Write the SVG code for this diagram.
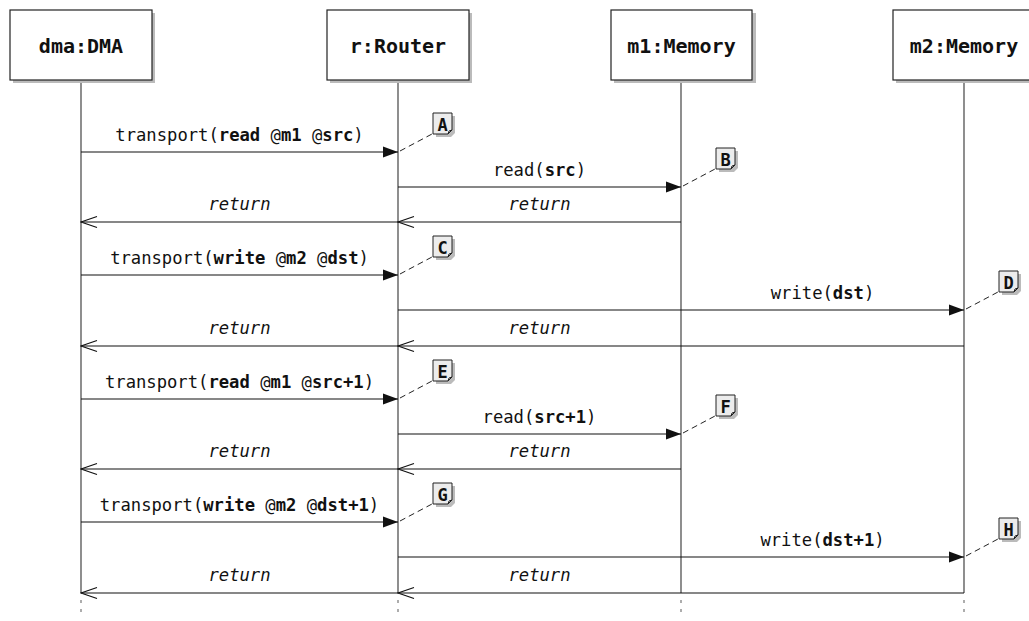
<svg xmlns="http://www.w3.org/2000/svg" width="1029" height="621" viewBox="0 0 1029 621">
<defs>
<style>
.box{fill:#fff;stroke:#222;stroke-width:1.2}
.shadow{fill:#bbb}
.nlabel{font-family:"DejaVu Sans Mono",monospace;font-weight:bold;font-size:20px;text-anchor:middle;fill:#111}
.life{stroke:#444;stroke-width:1.2}
.lifeend{stroke:#777;stroke-width:1.2;stroke-dasharray:3 6}
.msg{stroke:#111;stroke-width:1.2;fill:none}
.ret{stroke:#111;stroke-width:1.2;fill:none}
.mlabel{font-family:"DejaVu Sans Mono",monospace;font-size:17.2px;text-anchor:middle;fill:#111}
.rlabel{font-family:"DejaVu Sans Mono",monospace;font-style:italic;font-size:17.2px;text-anchor:middle;fill:#111}
.b{font-weight:bold}
.note{fill:#ececec;stroke:#222;stroke-width:1}
.nshadow{fill:#bbb}
.ntext{font-family:"DejaVu Sans Mono",monospace;font-weight:bold;font-size:17px;text-anchor:middle;fill:#111}
.link{stroke:#222;stroke-width:1;stroke-dasharray:6 4;fill:none}
</style>
<marker id="filled" markerWidth="16" markerHeight="12" refX="15" refY="6" orient="auto" markerUnits="userSpaceOnUse">
<path d="M0,0.5 L15,6 L0,11.5 z" fill="#111"/>
</marker>
<marker id="open" markerWidth="18" markerHeight="14" refX="1" refY="7" orient="auto" markerUnits="userSpaceOnUse">
<path d="M17,1.5 L1,7 L17,12.5" fill="none" stroke="#111" stroke-width="1.2"/>
</marker>
<g id="notetpl">
<path class="nshadow" d="M3,3 h19 v17 l-4,4 h-15 z"/>
<path class="note" d="M0,0 h19 v17 l-4,4 h-15 z"/>
<path d="M15,21 l1,-3 l3,-1" fill="none" stroke="#222" stroke-width="1"/>
</g>
</defs>
<rect width="1029" height="621" fill="#fff"/>

<g id="lifelines">
<line class="life" x1="81" y1="80" x2="81" y2="593"/>
<line class="life" x1="398" y1="80" x2="398" y2="593"/>
<line class="life" x1="681" y1="80" x2="681" y2="593"/>
<line class="life" x1="964" y1="80" x2="964" y2="593"/>
<line class="lifeend" x1="81" y1="600" x2="81" y2="618"/>
<line class="lifeend" x1="398" y1="600" x2="398" y2="618"/>
<line class="lifeend" x1="681" y1="600" x2="681" y2="618"/>
<line class="lifeend" x1="964" y1="600" x2="964" y2="618"/>
</g>

<g id="dma">
<rect class="shadow" x="13" y="13" width="142" height="70"/>
<rect class="box" x="10" y="10" width="142" height="70"/>
<text class="nlabel" x="81" y="52.5">dma:DMA</text>
</g>
<g id="router">
<rect class="shadow" x="330" y="13" width="142" height="70"/>
<rect class="box" x="327" y="10" width="142" height="70"/>
<text class="nlabel" x="398" y="52.5">r:Router</text>
</g>
<g id="m1">
<rect class="shadow" x="614" y="13" width="142" height="70"/>
<rect class="box" x="611" y="10" width="141" height="70"/>
<text class="nlabel" x="681.5" y="52.5">m1:Memory</text>
</g>
<g id="m2">
<rect class="shadow" x="896" y="13" width="142" height="70"/>
<rect class="box" x="893" y="10" width="142" height="70"/>
<text class="nlabel" x="964" y="52.5">m2:Memory</text>
</g>

<g id="connectors">
<line class="msg" x1="81" y1="152" x2="398" y2="152" marker-end="url(#filled)"/>
<text class="mlabel" x="239.5" y="141">transport(<tspan class="b">read</tspan> @<tspan class="b">m1</tspan> @<tspan class="b">src</tspan>)</text>
<line class="msg" x1="398" y1="187" x2="681" y2="187" marker-end="url(#filled)"/>
<text class="mlabel" x="539.5" y="176">read(<tspan class="b">src</tspan>)</text>
<line class="ret" x1="398" y1="222" x2="681" y2="222" marker-start="url(#open)"/>
<text class="rlabel" x="539.5" y="210">return</text>
<line class="ret" x1="81" y1="222" x2="398" y2="222" marker-start="url(#open)"/>
<text class="rlabel" x="239.5" y="210">return</text>

<line class="msg" x1="81" y1="275" x2="398" y2="275" marker-end="url(#filled)"/>
<text class="mlabel" x="239.5" y="264">transport(<tspan class="b">write</tspan> @<tspan class="b">m2</tspan> @<tspan class="b">dst</tspan>)</text>
<line class="msg" x1="398" y1="310" x2="964" y2="310" marker-end="url(#filled)"/>
<text class="mlabel" x="822.5" y="299">write(<tspan class="b">dst</tspan>)</text>
<line class="ret" x1="398" y1="346" x2="964" y2="346" marker-start="url(#open)"/>
<text class="rlabel" x="539.5" y="334">return</text>
<line class="ret" x1="81" y1="346" x2="398" y2="346" marker-start="url(#open)"/>
<text class="rlabel" x="239.5" y="334">return</text>

<line class="msg" x1="81" y1="399" x2="398" y2="399" marker-end="url(#filled)"/>
<text class="mlabel" x="239.5" y="388">transport(<tspan class="b">read</tspan> @<tspan class="b">m1</tspan> @<tspan class="b">src+1</tspan>)</text>
<line class="msg" x1="398" y1="434" x2="681" y2="434" marker-end="url(#filled)"/>
<text class="mlabel" x="539.5" y="423">read(<tspan class="b">src+1</tspan>)</text>
<line class="ret" x1="398" y1="469" x2="681" y2="469" marker-start="url(#open)"/>
<text class="rlabel" x="539.5" y="457">return</text>
<line class="ret" x1="81" y1="469" x2="398" y2="469" marker-start="url(#open)"/>
<text class="rlabel" x="239.5" y="457">return</text>

<line class="msg" x1="81" y1="522" x2="398" y2="522" marker-end="url(#filled)"/>
<text class="mlabel" x="239.5" y="511">transport(<tspan class="b">write</tspan> @<tspan class="b">m2</tspan> @<tspan class="b">dst+1</tspan>)</text>
<line class="msg" x1="398" y1="557" x2="964" y2="557" marker-end="url(#filled)"/>
<text class="mlabel" x="822.5" y="546">write(<tspan class="b">dst+1</tspan>)</text>
<line class="ret" x1="398" y1="593" x2="964" y2="593" marker-start="url(#open)"/>
<text class="rlabel" x="539.5" y="581">return</text>
<line class="ret" x1="81" y1="593" x2="398" y2="593" marker-start="url(#open)"/>
<text class="rlabel" x="239.5" y="581">return</text>

<path class="link" d="M400,151 L432,134"/>
<path class="link" d="M683,186 L715,169"/>
<path class="link" d="M400,274 L432,257"/>
<path class="link" d="M966,309 L998,292"/>
<path class="link" d="M400,398 L432,381"/>
<path class="link" d="M683,433 L715,416"/>
<path class="link" d="M400,521 L432,504"/>
<path class="link" d="M966,556 L998,539"/>
</g>

<g id="noteA"><use href="#notetpl" x="433" y="113"/><text class="ntext" x="442.5" y="131">A</text></g>
<g id="noteB"><use href="#notetpl" x="716" y="148"/><text class="ntext" x="725.5" y="166">B</text></g>
<g id="noteC"><use href="#notetpl" x="433" y="236"/><text class="ntext" x="442.5" y="254">C</text></g>
<g id="noteD"><use href="#notetpl" x="999" y="271"/><text class="ntext" x="1008.5" y="289">D</text></g>
<g id="noteE"><use href="#notetpl" x="433" y="360"/><text class="ntext" x="442.5" y="378">E</text></g>
<g id="noteF"><use href="#notetpl" x="716" y="395"/><text class="ntext" x="725.5" y="413">F</text></g>
<g id="noteG"><use href="#notetpl" x="433" y="483"/><text class="ntext" x="442.5" y="501">G</text></g>
<g id="noteH"><use href="#notetpl" x="999" y="518"/><text class="ntext" x="1008.5" y="536">H</text></g>
</svg>
